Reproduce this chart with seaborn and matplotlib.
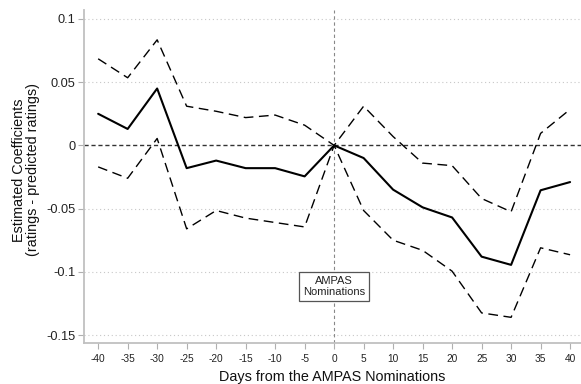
import numpy as np
import pandas as pd
import matplotlib
matplotlib.use("Agg")
import matplotlib.pyplot as plt
import seaborn as sns

# Event-study estimates around the AMPAS nominations
days = [-40, -35, -30, -25, -20, -15, -10, -5, 0, 5, 10, 15, 20, 25, 30, 35, 40]
coef = [0.025, 0.013, 0.045, -0.018, -0.012, -0.018, -0.018, -0.0245, 0.0,
        -0.010, -0.035, -0.049, -0.057, -0.088, -0.0945, -0.0355, -0.029]
upper = [0.0685, 0.0535, 0.0835, 0.031, 0.027, 0.022, 0.024, 0.016, 0.0,
         0.031, 0.007, -0.014, -0.016, -0.042, -0.0525, 0.0095, 0.0285]
lower = [-0.017, -0.026, 0.0055, -0.066, -0.0515, -0.0575, -0.061, -0.0645, 0.0,
         -0.0515, -0.075, -0.083, -0.0995, -0.1325, -0.136, -0.081, -0.0865]

y_ticks = [0.1, 0.05, 0, -0.05, -0.1, -0.15]
y_tick_labels = ["0.1", "0.05", "0", "-0.05", "-0.1", "-0.15"]

df = pd.DataFrame({"day": days, "coef": coef, "upper": upper, "lower": lower})

sns.set_style("white")
plt.rcParams["font.family"] = ["Liberation Sans", "DejaVu Sans"]

fig = plt.figure(figsize=(5.81, 3.84), dpi=100)
ax = fig.add_axes([84 / 581, 1 - 343 / 384, (581 - 84) / 581, (343 - 10) / 384])

grid_col = "#c8c8c8"
for yv in y_ticks:
    if yv != 0:
        ax.axhline(yv, color=grid_col, lw=0.8, ls=(0, (1, 2.5)), zorder=0)
ax.axhline(0, color="#333333", lw=1.0, ls=(0, (3, 2)), zorder=1)
ax.axvline(0, color="#888888", lw=0.8, ls=(0, (3, 2.5)), zorder=1)

sns.lineplot(data=df, x="day", y="upper", ax=ax, color="black", lw=1.0,
             dashes=False, linestyle=(0, (7, 4)), zorder=3)
sns.lineplot(data=df, x="day", y="lower", ax=ax, color="black", lw=1.0,
             dashes=False, linestyle=(0, (7, 4)), zorder=3)
sns.lineplot(data=df, x="day", y="coef", ax=ax, color="black", lw=1.5, zorder=4)

ax.set_xlim(-42.4, 41.85)
ax.set_ylim(-0.1563, 0.1071)
ax.set_xticks(days)
ax.set_xticklabels([str(d) for d in days], fontsize=7.3, color="#222222")
ax.set_yticks(y_ticks)
ax.set_yticklabels(y_tick_labels, fontsize=9.2, color="#222222")

ax.tick_params(axis="both", which="both", direction="out", length=4,
               width=0.8, color="#b0b0b0", left=True, bottom=True)
ax.tick_params(axis="x", pad=4)
ax.tick_params(axis="y", pad=2)

for side in ["top", "right"]:
    ax.spines[side].set_visible(False)
for side in ["left", "bottom"]:
    ax.spines[side].set_color("#c0c0c0")
    ax.spines[side].set_linewidth(1.3)

ax.set_xlabel("Days from the AMPAS Nominations", fontsize=10.4, color="#111111",
              labelpad=4)
ax.set_ylabel("Estimated Coefficients\n(ratings - predicted ratings)",
              fontsize=10.4, color="#111111", linespacing=1.0)
ax.yaxis.set_label_coords(-0.0885, 0.52)

ax.text(0, -0.1115, "AMPAS\nNominations", ha="center", va="center",
        fontsize=8, color="#222222", linespacing=1.1,
        bbox=dict(boxstyle="square,pad=0.35", fc="white", ec="#555555", lw=0.9),
        zorder=5)

fig.savefig("out.png", dpi=100)
